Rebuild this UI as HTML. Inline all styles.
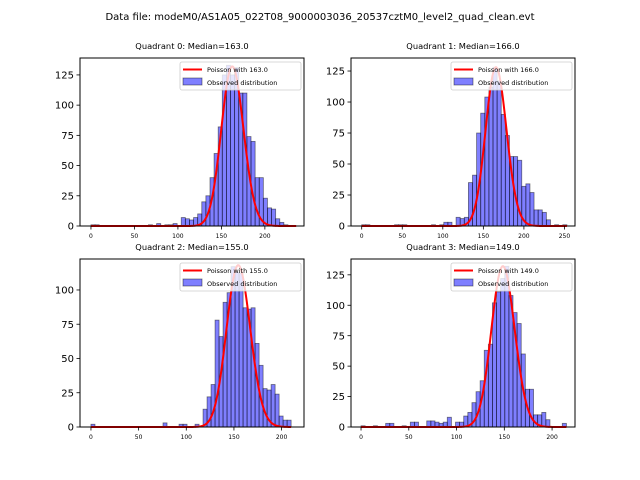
<!DOCTYPE html>
<html><head><meta charset="utf-8"><style>
body{margin:0;background:#fff;}
svg{display:block;font-family:"DejaVu Sans","Liberation Sans",sans-serif;}
</style></head><body>
<svg id="fig" width="640" height="480" viewBox="0 0 640 480">
<text x="320" y="20" text-anchor="middle" font-size="10" fill="#000">Data file: modeM0/AS1A05_022T08_9000003036_20537cztM0_level2_quad_clean.evt</text>
</svg>
<script>
const q0Counts=[1,1,0,0,0,0,0,0,0,0,0,0,0,0,1,0,2,0,1,1,2,0,7,6,5,7,10,20,25,40,60,82,125,133,125,131,110,110,74,70,40,40,23,15,14,6,3,1,0,0];
const q1Counts=[1,1,0,0,0,0,0,0,1,1,1,0,0,0,0,0,0,1,0,1,3,3,0,7,6,7,35,41,75,91,104,112,128,117,90,73,56,56,53,32,34,27,13,13,11,5,0,1,0,1];
const q2Counts=[2,0,0,0,0,0,0,0,0,0,0,0,0,0,0,0,0,0,3,0,0,0,2,2,0,0,2,0,13,22,31,78,66,91,98,117,113,112,87,86,87,61,45,28,27,31,24,8,5,5];
const q3Counts=[1,0,0,1,0,0,3,3,0,0,1,0,4,4,0,0,5,5,4,3,4,8,0,4,4,9,12,20,29,38,63,68,102,111,122,132,108,94,85,60,31,31,10,10,12,6,0,0,0,3];
const binMax=[236,253,210,215];
const medians=[163.0,166.0,155.0,149.0];
const curvePeaks=[132,128,118,132];
const yTicks=[[0,25,50,75,100,125],[0,25,50,75,100,125],[0,25,50,75,100],[0,25,50,75,100,125]];
const xTicks=[[0,50,100,150,200],[0,50,100,150,200,250],[0,50,100,150,200],[0,50,100,150,200]];
const allCounts=[q0Counts,q1Counts,q2Counts,q3Counts];

const NS="http://www.w3.org/2000/svg";
const svg=document.getElementById('fig');
function mk(tag,attrs,parent){const e=document.createElementNS(NS,tag);for(const k in attrs)e.setAttribute(k,attrs[k]);(parent||svg).appendChild(e);return e;}

const layout=[
 {l:80,r:304,t:58,b:226,xmin:-12.6,xmax:245,ymax:139},
 {l:351,r:575,t:58,b:226,xmin:-13.2,xmax:263,ymax:135.5},
 {l:80,r:304,t:259,b:427,xmin:-11.5,xmax:223.5,ymax:122.6},
 {l:351,r:575,t:259,b:427,xmin:-10.5,xmax:224,ymax:138}
];

layout.forEach((L,q)=>{
  const g=mk('g',{});
  
  
  const X=v=>L.l+(v-L.xmin)/(L.xmax-L.xmin)*(L.r-L.l);
  const Y=v=>L.b-v/L.ymax*(L.b-L.t);
  const t=mk('text',{x:(L.l+L.r)/2,y:L.t-9,'text-anchor':'middle','font-size':'8.3',fill:'#000'},g);
  t.textContent='Quadrant '+q+': Median='+medians[q].toFixed(1);
  
  
  // bars
  const c=allCounts[q],n=c.length,bw=binMax[q]/n;
  c.forEach((v,i)=>{
    if(v<=0)return;
    const x0=X(i*bw),x1=X((i+1)*bw);
    const r=mk('rect',{x:x0,y:Y(v),width:x1-x0,height:L.b-Y(v),fill:'rgba(0,0,255,0.5)',stroke:'rgba(0,0,0,0.5)','stroke-width':0.8},g);
    
    
  });
  // poisson curve (on top)
  const lam=medians[q];
  let lf=0,pts=[],vals=[];
  for(let k=0;k<=Math.floor(binMax[q]);k++){
    if(k>0)lf+=Math.log(k);
    vals.push(Math.exp(k*Math.log(lam)-lam-lf));
  }
  const mx=Math.max(...vals);
  vals.forEach((p,k)=>pts.push(X(k).toFixed(2)+','+Y(p/mx*curvePeaks[q]).toFixed(2)));
  const pl=mk('polyline',{points:pts.join(' '),fill:'none',stroke:'#ff0000','stroke-width':2},g);
  
  
  // frame
  const fr=mk('rect',{x:L.l,y:L.t,width:L.r-L.l,height:L.b-L.t,fill:'none',stroke:'#000','stroke-width':1},g);
  
  
  yTicks[q].forEach(v=>{
    const y=Y(v);
    mk('line',{x1:L.l-3.5,x2:L.l,y1:y,y2:y,stroke:'#000','stroke-width':0.8},g);
    const tt=mk('text',{x:L.l-6,y:y+3.6,'text-anchor':'end','font-size':'10',fill:'#000'},g);
    tt.textContent=v;
    
    
  });
  xTicks[q].forEach(v=>{
    const x=X(v);
    mk('line',{x1:x,x2:x,y1:L.b,y2:L.b+3.5,stroke:'#000','stroke-width':0.8},g);
    const tt=mk('text',{x:x,y:L.b+12,'text-anchor':'middle','font-size':'6',fill:'#000'},g);
    tt.textContent=v;
    
    
  });
  // legend
  const lg=mk('g',{},g);
  
  
  const lx=L.r-124,ly=L.t+4;
  mk('rect',{x:lx,y:ly,width:121,height:28,rx:2,fill:'rgba(255,255,255,0.8)',stroke:'#ccc','stroke-width':0.8},lg);
  mk('line',{x1:lx+3,x2:lx+22,y1:ly+7.5,y2:ly+7.5,stroke:'#ff0000','stroke-width':2},lg);
  const t1=mk('text',{x:lx+27,y:ly+10,'font-size':'6.5',fill:'#000'},lg);
  t1.textContent='Poisson with '+medians[q].toFixed(1);
  
  
  mk('rect',{x:lx+3,y:ly+16,width:19,height:7,fill:'rgba(0,0,255,0.5)',stroke:'rgba(0,0,0,0.5)','stroke-width':0.8},lg);
  const t2=mk('text',{x:lx+27,y:ly+23,'font-size':'6.5',fill:'#000'},lg);
  t2.textContent='Observed distribution';
  
  
});
</script>
</body></html>
